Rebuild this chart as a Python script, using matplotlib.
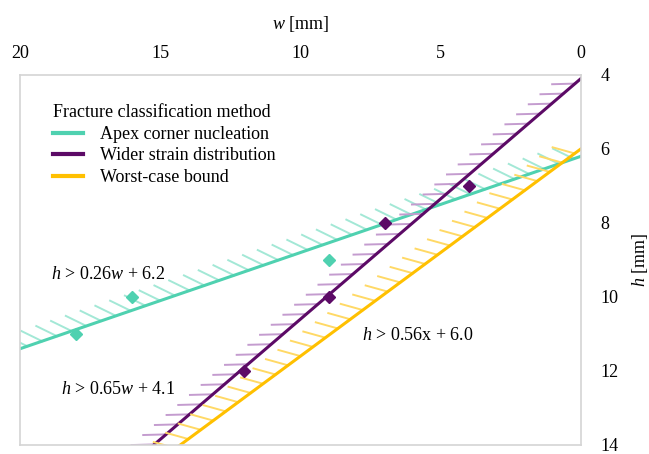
import numpy as np
import matplotlib
matplotlib.use('Agg')
import matplotlib.pyplot as plt
from matplotlib import patheffects

plt.rcParams['font.family'] = ['Liberation Serif', 'DejaVu Serif']
plt.rcParams['mathtext.fontset'] = 'custom'
plt.rcParams['mathtext.rm'] = 'Liberation Serif'
plt.rcParams['mathtext.it'] = 'Liberation Serif:italic'

# Данные: границы h > a*w + b
names = ['Apex corner nucleation', 'Wider strain distribution', 'Worst-case bound']
slopes = [0.26, 0.65, 0.56]
intercepts = [6.2, 4.1, 6.0]
colors = ['#4fd1b0', '#5c0a66', '#ffc000']
tick_colors = ['#a3e8d6', '#c49ccf', '#ffd966']
tick_angles = [135, 141, 128]
labels = ['$h$ > 0.26$w$ + 6.2', '$h$ > 0.65$w$ + 4.1', '$h$ > 0.56x + 6.0']
label_pos = [(18.9, 9.4), (18.55, 12.5), (7.8, 11.05)]

# Точки (ромбы)
apex_w = [18, 16, 9]
apex_h = [11, 10, 9]
wider_w = [4, 7, 9, 12]
wider_h = [7, 8, 10, 12]

fig = plt.figure(figsize=(6.49, 4.54), dpi=100)
ax = fig.add_axes([0.031, 0.02, 0.864, 0.815])

w = np.linspace(20, 0, 200)
handles = []
for a, b, c, tc, ang in zip(slopes, intercepts, colors, tick_colors, tick_angles):
    h = a * w + b
    ax.plot(w, h, color=tc, lw=1.4,
            path_effects=[patheffects.TickedStroke(spacing=11, angle=ang, length=1.5)])
    ln, = ax.plot(w, h, color=c, lw=2.2)
    handles.append(ln)

ax.plot(apex_w, apex_h, 'D', color=colors[0], ms=6.5, zorder=5)
ax.plot(wider_w, wider_h, 'D', color=colors[1], ms=6.5, zorder=5)

for txt, (x, y) in zip(labels, label_pos):
    ax.text(x, y, txt, fontsize=13, ha='left', va='center')

ax.set_xlim(20, 0)
ax.set_ylim(14, 4)
ax.set_xticks([20, 15, 10, 5, 0])
ax.set_yticks([4, 6, 8, 10, 12, 14])
ax.xaxis.tick_top()
ax.xaxis.set_label_position('top')
ax.yaxis.tick_right()
ax.yaxis.set_label_position('right')
ax.tick_params(axis='both', length=0, labelsize=13)
ax.tick_params(axis='x', pad=9)
ax.tick_params(axis='y', pad=14)
ax.set_xlabel('$w$ [mm]', fontsize=13, labelpad=12)
ax.set_ylabel('$h$ [mm]', fontsize=13, labelpad=8)
for s in ax.spines.values():
    s.set_color('#d4d4d4')
    s.set_linewidth(1.2)

leg = ax.legend(handles, names, title='Fracture classification method',
                loc='upper left', bbox_to_anchor=(0.045, 0.94), frameon=False,
                fontsize=13, title_fontsize=13, handlelength=1.7,
                handletextpad=0.9, labelspacing=0.25, borderaxespad=0)
leg._legend_box.align = 'left'
for lh in leg.get_lines():
    lh.set_linewidth(3)

fig.savefig('out.png', dpi=100)
